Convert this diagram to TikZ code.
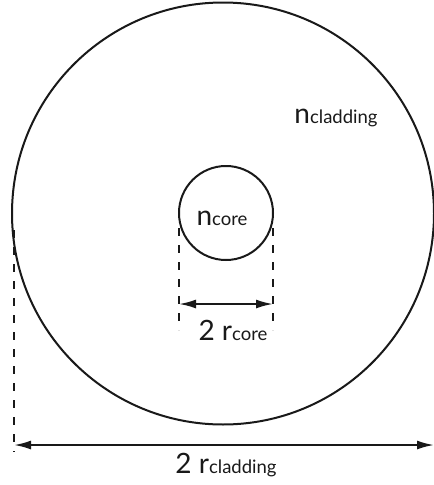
\documentclass[tikz,border=0pt]{standalone}
\usepackage{fontspec}
\setmainfont{Lato}
\usepackage{tikz}
\usetikzlibrary{arrows.meta,positioning}
\colorlet{fibink}{black!90}
\newcommand{\fiblabel}[2]{{\fontsize{28}{28}\selectfont #1}{\fontsize{18.5}{18.5}\selectfont #2}}
\tikzset{
  fibring/.style={circle,draw=fibink,line width=2pt,inner sep=0pt,outer sep=0pt},
  fibdash/.style={draw=fibink,line width=2.2pt,dash pattern=on 8pt off 9pt},
  fibarrow/.style={{Latex[length=17pt,width=9pt]}-{Latex[length=17pt,width=9pt]},line width=2pt,fibink},
  fibtext/.style={anchor=base,inner sep=0pt,text=fibink}
}

\begin{document}
\begin{tikzpicture}[x=1pt,y=-1pt]
  \useasboundingbox (0,0) rectangle (434,485);

  \node[fibring,minimum size=422pt] (clad) at (223,213.5) {};
  \node[fibring,minimum size=94pt] (core) at (226,213) {};

  \node[fibtext] (ncore) at (222,225) {\fiblabel{n}{core}};
  \node[fibtext] (nclad) at (336,123) {\fiblabel{n}{cladding}};

  % core diameter
  \coordinate (coreLtop) at (179,228);
  \coordinate (coreLbot) at (179,330);
  \coordinate (coreRtop) at (273,228);
  \coordinate (coreRbot) at (273,330);
  \coordinate (coreL) at (179,304);
  \coordinate (coreR) at (273,304);
  \draw[fibdash] (coreLtop) -- (coreLbot);
  \draw[fibdash] (coreRtop) -- (coreRbot);
  \draw[fibarrow] (coreL) -- (coreR);
  \node[fibtext] (rcore) at (233,340) {\fiblabel{2 r}{core}};

  % cladding diameter
  \coordinate (cladLtop) at (14,230);
  \coordinate (cladLbot) at (14,452);
  \coordinate (cladL) at (14,445);
  \coordinate (cladR) at (434,445);
  \draw[fibdash] (cladLtop) -- (cladLbot);
  \draw[fibarrow] (cladL) -- (cladR);
  \node[fibtext] (rclad) at (226,473) {\fiblabel{2 r}{cladding}};
\end{tikzpicture}
\end{document}
